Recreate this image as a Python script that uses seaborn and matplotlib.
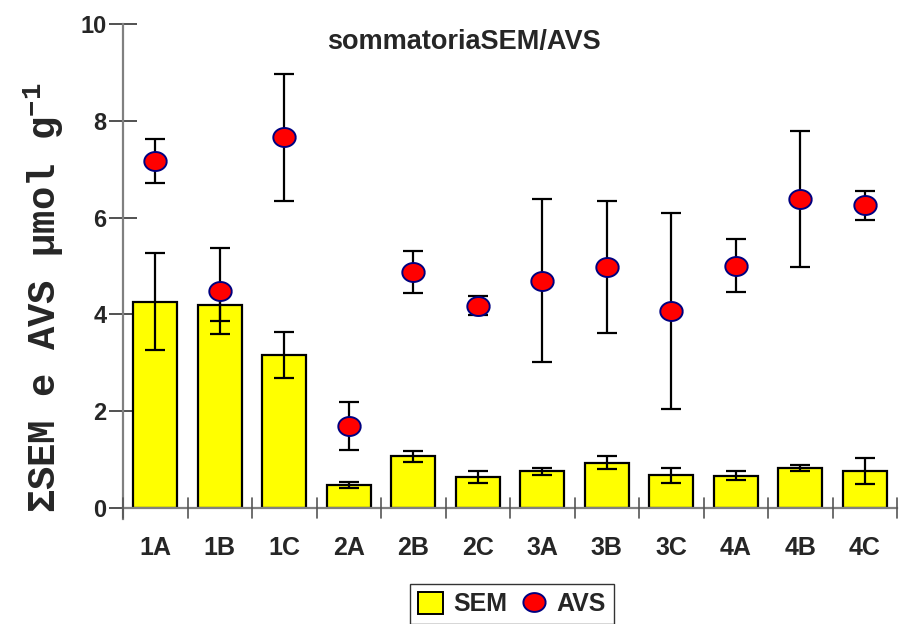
import numpy as np
import pandas as pd
import matplotlib
matplotlib.use("Agg")
import matplotlib.pyplot as plt
import seaborn as sns
from matplotlib.path import Path
from matplotlib.lines import Line2D
from matplotlib.patches import Patch

categories = ["1A", "1B", "1C", "2A", "2B", "2C", "3A", "3B", "3C", "4A", "4B", "4C"]
sem_values = [4.26, 4.19, 3.16, 0.48, 1.07, 0.645, 0.76, 0.94, 0.675, 0.67, 0.83, 0.76]
sem_errors = [1.00, 0.33, 0.48, 0.06, 0.11, 0.125, 0.07, 0.135, 0.155, 0.09, 0.065, 0.27]
avs_values = [7.17, 4.48, 7.66, 1.70, 4.87, 4.18, 4.70, 4.98, 4.07, 5.01, 6.38, 6.25]
avs_errors = [0.45, 0.89, 1.31, 0.50, 0.43, 0.19, 1.68, 1.36, 2.02, 0.55, 1.40, 0.29]
y_ticks = [0, 2, 4, 6, 8, 10]

sns.set_style("white")
plt.rcParams["font.family"] = ["Liberation Sans", "DejaVu Sans"]
plt.rcParams["font.weight"] = "bold"
plt.rcParams["mathtext.fontset"] = "custom"
plt.rcParams["mathtext.rm"] = "Liberation Mono:bold"
plt.rcParams["mathtext.it"] = "Liberation Mono:bold"
plt.rcParams["mathtext.bf"] = "Liberation Mono:bold"

df = pd.DataFrame({"cat": categories, "SEM": sem_values, "SEM_err": sem_errors,
                   "AVS": avs_values, "AVS_err": avs_errors})

fig = plt.figure(figsize=(9.01, 6.24), dpi=100)
ax = fig.add_axes([123 / 901, 1 - 508 / 624, 774 / 901, 484 / 624])

sns.barplot(data=df, x="cat", y="SEM", color="#FFFF00", width=0.68,
            edgecolor="black", linewidth=1.6, saturation=1, ax=ax, zorder=2)
xpos = np.arange(len(categories))
ax.errorbar(xpos, df["SEM"], yerr=df["SEM_err"], fmt="none", ecolor="black",
            elinewidth=1.6, capsize=7, capthick=1.6, zorder=3)
ax.errorbar(xpos, df["AVS"], yerr=df["AVS_err"], fmt="none", ecolor="black",
            elinewidth=1.6, capsize=7, capthick=1.6, zorder=4)

t = np.linspace(0, 2 * np.pi, 60)
ellipse = np.column_stack([1.18 * np.cos(t), np.sin(t)])
sns.scatterplot(data=df, x="cat", y="AVS", marker=Path(ellipse), s=260,
                color="#FF0000", edgecolor="#000080", linewidth=1.4,
                ax=ax, zorder=5, legend=False)

ax.set_xlim(-0.5, len(categories) - 0.5)
ax.set_ylim(0, 10)
ax.set_yticks(y_ticks)
ax.set_yticklabels([str(v) for v in y_ticks], fontsize=17, fontweight="bold")
ax.set_xticks(xpos)
ax.set_xticklabels(categories, fontsize=18, fontweight="bold")
ax.tick_params(axis="x", length=0, pad=20)
ax.tick_params(axis="y", direction="inout", length=20, width=1.2, color="#333333", pad=2, left=True)
for b in np.arange(-0.5, len(categories) + 0.5, 1.0):
    ax.plot([b, b], [-0.02, 0.02], transform=ax.get_xaxis_transform(),
            color="#555555", lw=1.2, clip_on=False, zorder=6)
ax.set_xlabel("")
ax.set_ylabel("")
for s in ["top", "right"]:
    ax.spines[s].set_visible(False)
for s in ["left", "bottom"]:
    ax.spines[s].set_color("#808080")
    ax.spines[s].set_linewidth(1.6)
ax.spines["left"].set_bounds(-0.22, 10)
ax.grid(False)

fig.text(464 / 901, 1 - 42 / 624, "sommatoriaSEM/AVS", ha="center", va="center",
         fontsize=19.5, fontweight="bold")
fig.text(44 / 901, 1 - 298 / 624, "ΣSEM e AVS µmol g$^{-1}$", rotation=90,
         ha="center", va="center", fontsize=28, fontweight="bold",
         family=["Liberation Mono", "DejaVu Sans Mono"])

handles = [Patch(facecolor="#FFFF00", edgecolor="black", linewidth=1.4, label="SEM"),
           Line2D([], [], marker=Path(ellipse), linestyle="none", markersize=16,
                  markerfacecolor="#FF0000", markeredgecolor="#000080",
                  markeredgewidth=1.4, label="AVS")]
leg = fig.legend(handles=handles, loc="center", bbox_to_anchor=(512 / 901, 1 - 604 / 624),
                 ncol=2, frameon=True, fancybox=False,
                 prop={"weight": "bold", "size": 18}, handlelength=1.0, handleheight=1.0,
                 handletextpad=0.4, columnspacing=0.6, borderpad=0.3)
leg.get_frame().set_edgecolor("black")
leg.get_frame().set_linewidth(1.0)

fig.savefig("out.png", dpi=100)
